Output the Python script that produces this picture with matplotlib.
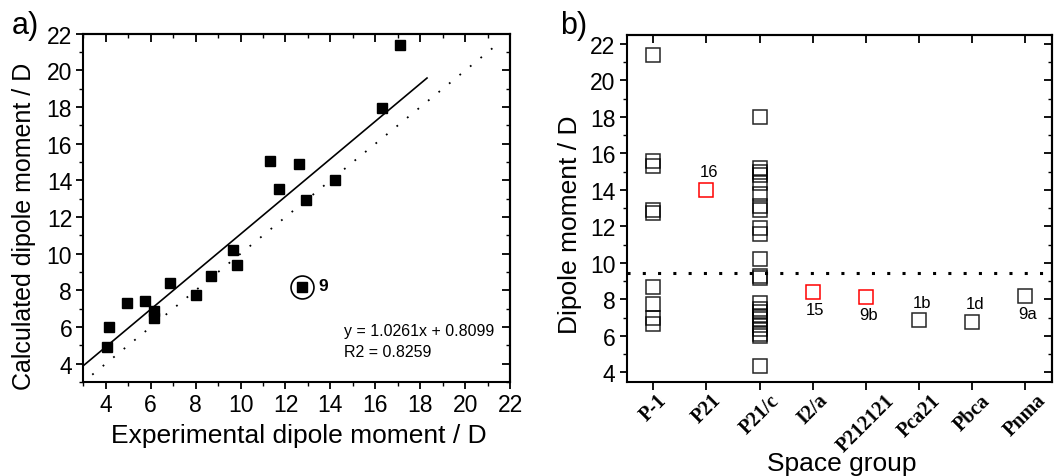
import matplotlib
matplotlib.use('Agg')
import matplotlib.pyplot as plt
from matplotlib.ticker import MultipleLocator

plt.rcParams['font.family'] = ['Liberation Sans', 'DejaVu Sans']

# panel a: experimental vs calculated dipole moment
exp_dipole = [17.1, 16.3, 11.3, 12.6, 11.7, 12.9, 14.2, 9.65, 9.85, 8.7,
              8.0, 6.85, 5.75, 4.95, 6.15, 6.15, 4.15, 4.05]
calc_dipole = [21.4, 17.95, 15.05, 14.9, 13.55, 12.95, 14.05, 10.2, 9.4, 8.8,
               7.75, 8.4, 7.4, 7.3, 6.85, 6.5, 6.0, 4.9]
outlier_x = [12.75]
outlier_y = [8.2]
outlier_label = '9'

fit_slope = 1.0261
fit_intercept = 0.8099
fit_r2 = 0.8259
fit_x = [3.0, 18.3]
ident_x = [3.4, 21.5]

# panel b: dipole moment per space group
space_groups = ['P-1', 'P21', 'P21/c', 'I2/a', 'P212121', 'Pca21', 'Pbca', 'Pnma']
group_values = {
    'P-1': [21.4, 15.6, 15.3, 12.9, 12.75, 8.7, 7.75, 7.0, 6.65],
    'P21/c': [18.0, 15.2, 15.0, 14.8, 14.4, 13.8, 13.1, 12.9, 11.9, 11.6,
              10.2, 9.3, 9.2, 7.8, 7.5, 7.3, 7.1, 6.9, 6.6, 6.4, 6.1, 6.0, 4.35],
    'Pca21': [6.85],
    'Pbca': [6.75],
    'Pnma': [8.2],
}
red_groups = ['P21', 'I2/a', 'P212121']
red_values = [14.0, 8.4, 8.15]
label_groups = ['P21', 'I2/a', 'P212121', 'Pca21', 'Pbca', 'Pnma']
label_values = [14.0, 8.4, 8.15, 6.85, 6.75, 8.2]
label_texts = ['16', '15', '9b', '1b', '1d', '9a']
label_above = [True, False, False, True, True, False]
threshold = 9.45

fig = plt.figure(figsize=(10.54, 4.77), dpi=100)
ax1 = fig.add_axes([0.079, 0.197, 0.405, 0.730])
ax2 = fig.add_axes([0.5946, 0.198, 0.4032, 0.727])

tick_font = 16.5


def style_axes(ax, xminor=True):
    for s in ax.spines.values():
        s.set_linewidth(1.5)
    ax.tick_params(which='major', direction='out', length=5, width=1.3,
                   labelsize=tick_font, pad=3)
    ax.tick_params(which='minor', direction='out', length=3, width=1.0)
    top = ax.secondary_xaxis('top')
    right = ax.secondary_yaxis('right')
    top.set_xticks(ax.get_xticks())
    right.set_yticks(ax.get_yticks())
    if xminor:
        top.xaxis.set_minor_locator(MultipleLocator(1))
    right.yaxis.set_minor_locator(MultipleLocator(1))
    for sec in (top, right):
        sec.tick_params(which='major', direction='in', length=6, width=1.3,
                        labeltop=False, labelright=False)
        sec.tick_params(which='minor', direction='in', length=3, width=1.0)
        for s in sec.spines.values():
            s.set_linewidth(1.5)


# ---- panel a ----
ax1.plot(ident_x, ident_x, color='black', lw=1.3, linestyle=(0, (1, 6.5)))
fit_y = [fit_slope * x + fit_intercept for x in fit_x]
ax1.plot(fit_x, fit_y, color='black', lw=1.2)
ax1.plot(exp_dipole, calc_dipole, 's', color='black', markersize=7.5)
ax1.plot(outlier_x, outlier_y, 's', color='black', markersize=6.5)
ax1.plot(outlier_x, outlier_y, 'o', mfc='none', mec='black', markersize=16.5, mew=1.2)
ax1.text(outlier_x[0] + 0.7, outlier_y[0] + 0.05, outlier_label, fontsize=12.5,
         fontweight='bold', va='center', ha='left')
ax1.text(14.6, 5.83, f'y = {fit_slope}x + {fit_intercept}', fontsize=11.5,
         va='center', ha='left')
ax1.text(14.6, 4.69, f'R2 = {fit_r2}', fontsize=11.5, va='center', ha='left')

ax1.set_xlim(3, 22)
ax1.set_ylim(3, 22)
ax1.set_xticks(range(4, 23, 2))
ax1.set_yticks(range(4, 23, 2))
ax1.xaxis.set_minor_locator(MultipleLocator(1))
ax1.yaxis.set_minor_locator(MultipleLocator(1))
style_axes(ax1)
ax1.set_xlabel('Experimental dipole moment / D', fontsize=19)
ax1.xaxis.set_label_coords(0.505, -0.118)
ax1.set_ylabel('Calculated dipole moment / D', fontsize=18)
ax1.yaxis.set_label_coords(-0.11, 0.45)
fig.text(0.011, 0.928, 'a)', fontsize=22, ha='left', va='baseline')

# ---- panel b ----
ax2.axhline(threshold, color='black', lw=2.2, linestyle=(0, (1, 4)))
for g, vals in group_values.items():
    xi = space_groups.index(g)
    ax2.plot([xi] * len(vals), vals, 's', mfc='none', mec='black',
             markersize=9.5, mew=1.1, alpha=0.85)
for g, v in zip(red_groups, red_values):
    xi = space_groups.index(g)
    ax2.plot([xi], [v], 's', mfc='none', mec='red', markersize=9.5, mew=1.1)
for g, v, t, up in zip(label_groups, label_values, label_texts, label_above):
    xi = space_groups.index(g)
    dy = 1.0 if up else -0.95
    ax2.text(xi + 0.05, v + dy, t, fontsize=12, ha='center', va='center')

ax2.set_xlim(-0.5, len(space_groups) - 0.5)
ax2.set_ylim(3.5, 22.5)
ax2.set_xticks(range(len(space_groups)))
ax2.set_xticklabels(space_groups, rotation=45, ha='center',
                    fontfamily='Liberation Serif', fontweight='bold')
ax2.set_yticks(range(4, 23, 2))
ax2.yaxis.set_minor_locator(MultipleLocator(1))
style_axes(ax2, xminor=False)
ax2.tick_params(axis='x', labelsize=14.5, length=6, pad=0)
ax2.set_xlabel('Space group', fontsize=19)
ax2.xaxis.set_label_coords(0.505, -0.2)
ax2.set_ylabel('Dipole moment / D', fontsize=19)
ax2.yaxis.set_label_coords(-0.105, 0.455)
fig.text(0.531, 0.928, 'b)', fontsize=22, ha='left', va='baseline')

fig.savefig('out.png', dpi=100)
